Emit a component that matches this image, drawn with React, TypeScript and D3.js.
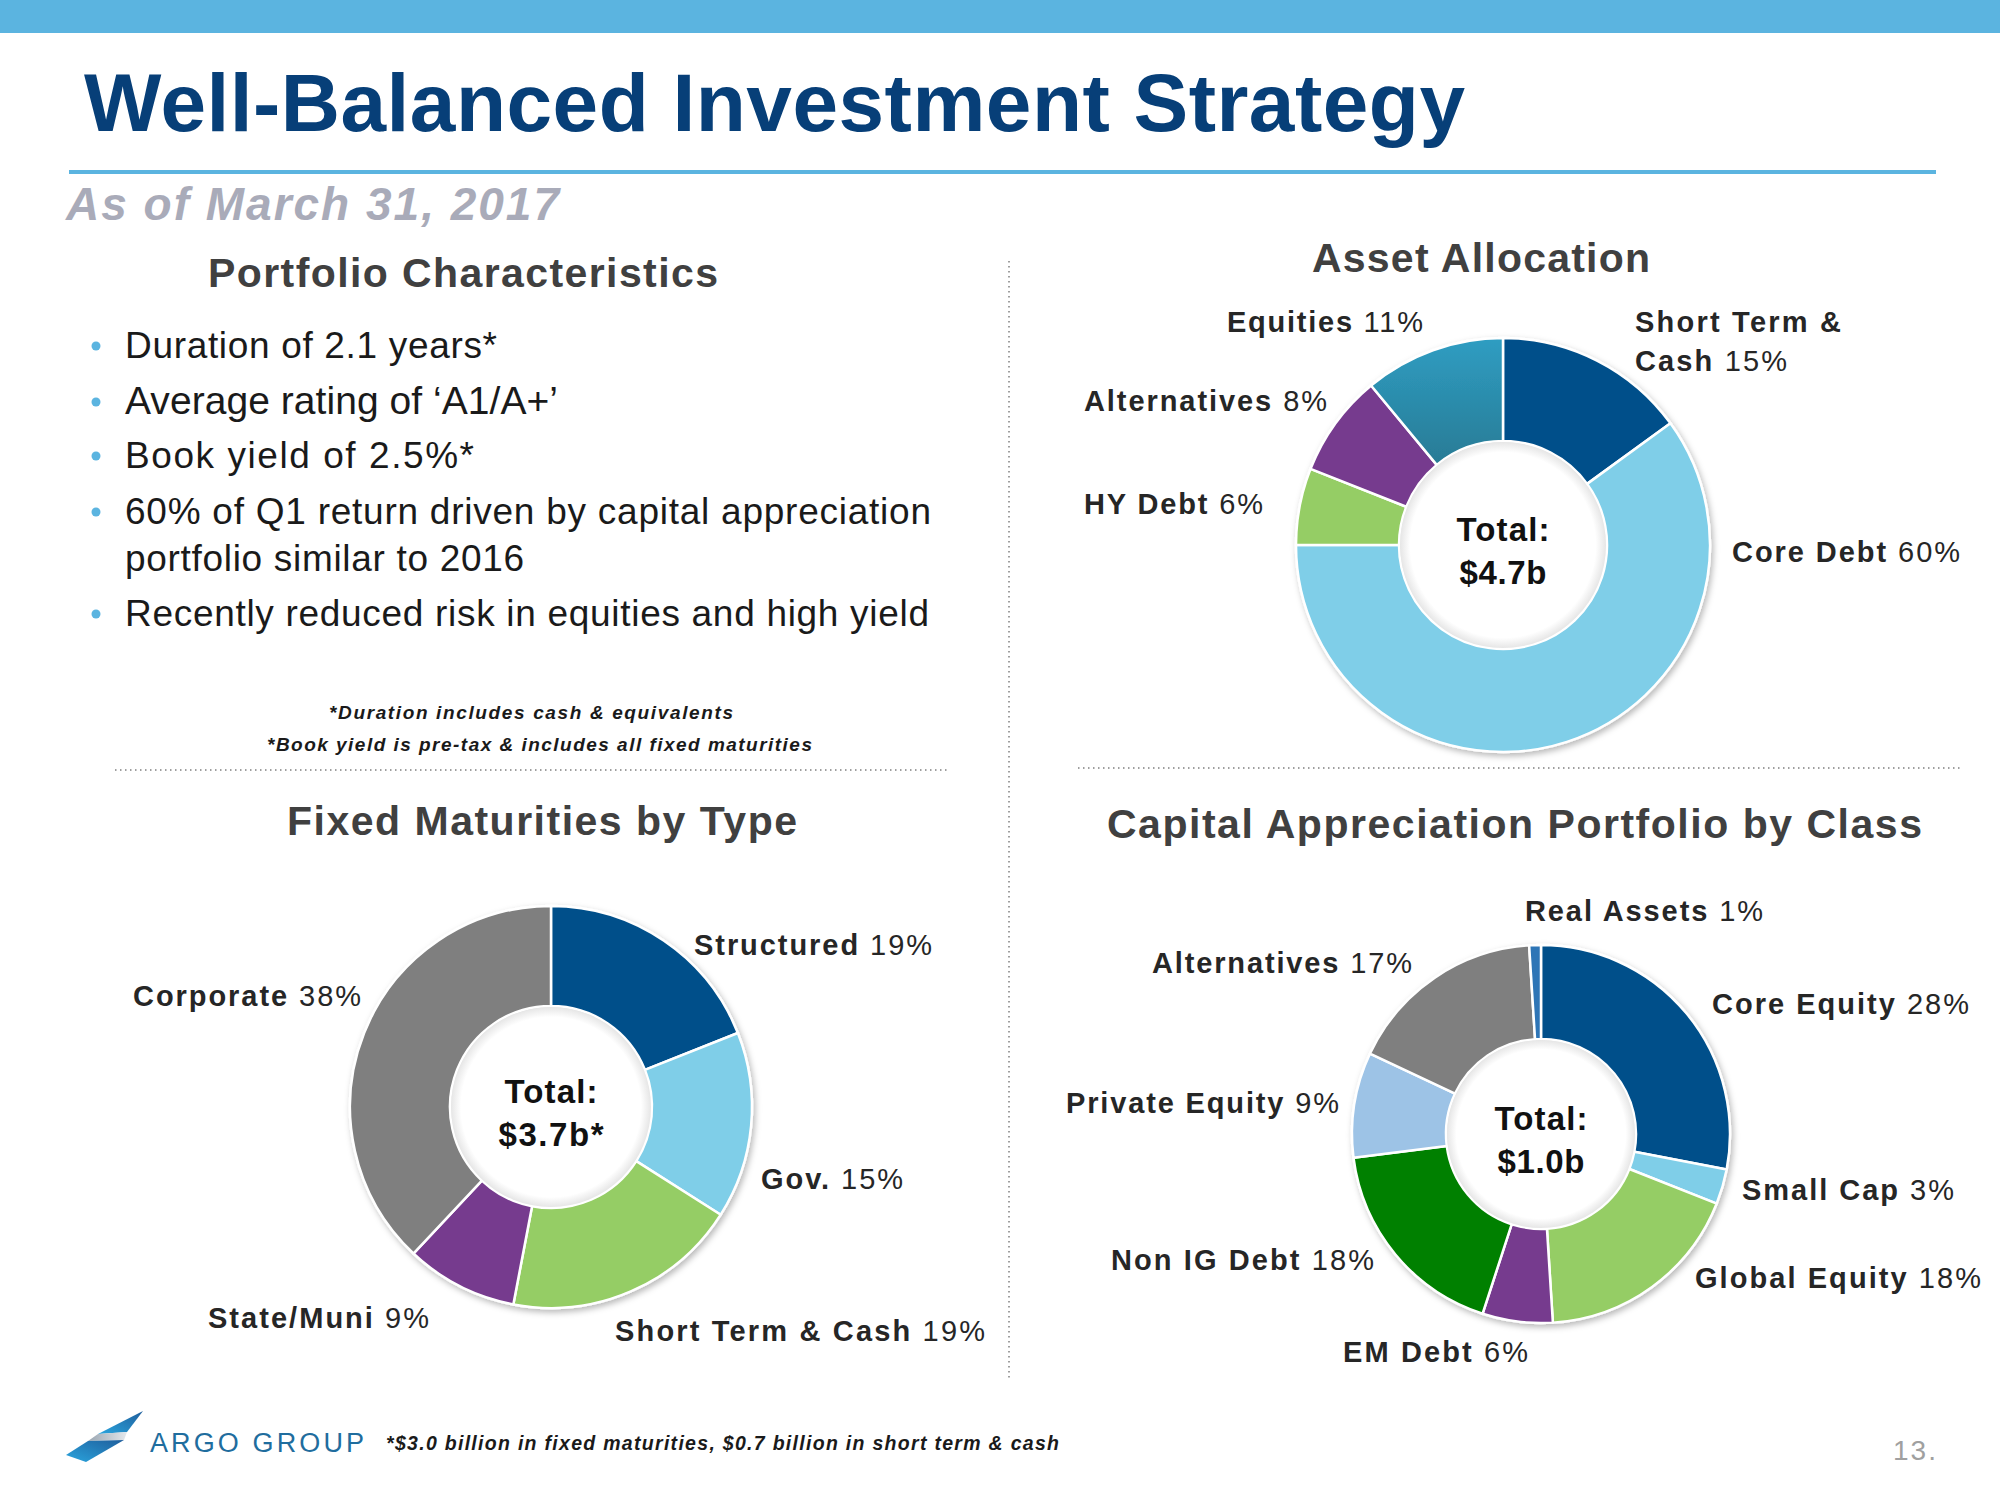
import React from "react";
import * as d3 from "d3";

// ---------- DATA ----------
const assetCategories = ["Short Term & Cash", "Core Debt", "HY Debt", "Alternatives", "Equities"];
const assetValues = [15, 60, 6, 8, 11];
const assetTotal = "$4.7b";

const fixedCategories = ["Structured", "Gov.", "Short Term & Cash", "State/Muni", "Corporate"];
const fixedValues = [19, 15, 19, 9, 38];
const fixedTotal = "$3.7b*";

const capCategories = ["Core Equity", "Small Cap", "Global Equity", "EM Debt", "Non IG Debt", "Private Equity", "Alternatives", "Real Assets"];
const capValues = [28, 3, 18, 6, 18, 9, 17, 1];
const capTotal = "$1.0b";

const bullets = [
  ["Duration of 2.1 years*"],
  ["Average rating of \u2018A1/A+\u2019"],
  ["Book yield of 2.5%*"],
  ["60% of Q1 return driven by capital appreciation", "portfolio similar to 2016"],
  ["Recently reduced risk in equities and high yield"],
];

// ---------- STYLE / LAYOUT ----------
const FONT = "'Liberation Sans', Arial, sans-serif";
const C = {
  bar: "#5BB4E0",
  title: "#073F78",
  sub: "#A9ABB9",
  head: "#404040",
  text: "#1A1A1A",
  dark: "#02508A",
  light: "#7FCEE8",
  green: "#95CD65",
  purple: "#763B8E",
  gray: "#7F7F7F",
  dgreen: "#008000",
  peri: "#9DC3E6",
  real: "#2E75B6",
};
const assetColors = [C.dark, C.light, C.green, C.purple, "url(#tealGrad)"];
const fixedColors = [C.dark, C.light, C.green, C.purple, C.gray];
const capColors = [C.dark, C.light, C.green, C.purple, C.dgreen, C.peri, C.gray, C.real];

const bulletY = [358, 414, 468, 524, 571, 626];
const bulletW = [372, 433, 349, 806, 399, 804];

type L = { x: number; y: number; w: number; lines?: { name: string; pct?: string; y: number; w: number }[] };
const assetLayout: L[] = [
  { x: 1635, y: 332, w: 206, lines: [{ name: "Short Term &", y: 332, w: 206 }, { name: "Cash", pct: "15%", y: 371, w: 152 }] },
  { x: 1732, y: 562, w: 228 },
  { x: 1084, y: 514, w: 179 },
  { x: 1084, y: 411, w: 243 },
  { x: 1227, y: 332, w: 196 },
];
const fixedLayout: L[] = [
  { x: 694, y: 955, w: 238 },
  { x: 761, y: 1189, w: 142 },
  { x: 615, y: 1341, w: 370 },
  { x: 208, y: 1328, w: 221 },
  { x: 133, y: 1006, w: 228 },
];
const capLayout: L[] = [
  { x: 1712, y: 1014, w: 257 },
  { x: 1742, y: 1200, w: 212 },
  { x: 1695, y: 1288, w: 286 },
  { x: 1343, y: 1362, w: 185 },
  { x: 1111, y: 1270, w: 263 },
  { x: 1066, y: 1113, w: 273 },
  { x: 1152, y: 973, w: 260 },
  { x: 1525, y: 921, w: 238 },
];

function Label({ name, pct, x, y, w }: { name: string; pct?: string; x: number; y: number; w: number }) {
  return (
    <text x={x} y={y} fontFamily={FONT} fontSize={29} fill="#262626" textLength={w} lengthAdjust="spacing">
      <tspan fontWeight="bold">{name}</tspan>
      {pct ? <tspan fontWeight="normal">{" " + pct}</tspan> : null}
    </text>
  );
}

type Datum = { c: string; v: number };

function Donut({
  cats, vals, colors, cx, cy, R, r, layout, total, totalW,
}: {
  cats: string[]; vals: number[]; colors: string[]; cx: number; cy: number; R: number; r: number;
  layout: L[]; total: string; totalW: number;
}) {
  const data: Datum[] = cats.map((c, i) => ({ c, v: vals[i] }));
  const pie = d3.pie<Datum>().sort(null).value((d) => d.v);
  const arc = d3.arc<d3.PieArcDatum<Datum>>().innerRadius(r).outerRadius(R);
  const arcs = pie(data);
  return (
    <g>
      <g transform={`translate(${cx},${cy})`} filter="url(#shadow)">
        {arcs.map((a) => (
          <path key={a.data.c + a.index} d={arc(a) || ""} fill={colors[a.index]} stroke="#FFFFFF" strokeWidth={2.5} strokeLinejoin="round" />
        ))}
      </g>
      <circle cx={cx} cy={cy} r={r - 1} fill="url(#holeGrad)" />
      <text x={cx} y={cy - 4} textAnchor="middle" fontFamily={FONT} fontWeight="bold" fontSize={33} fill="#111" textLength={93} lengthAdjust="spacing">Total:</text>
      <text x={cx} y={cy + 39} textAnchor="middle" fontFamily={FONT} fontWeight="bold" fontSize={33} fill="#111" textLength={totalW} lengthAdjust="spacing">{total}</text>
      {layout.map((l, i) =>
        l.lines ? (
          <g key={i}>
            {l.lines.map((ln, j) => (
              <Label key={j} name={ln.name} pct={ln.pct} x={l.x} y={ln.y} w={ln.w} />
            ))}
          </g>
        ) : (
          <Label key={i} name={cats[i]} pct={vals[i] + "%"} x={l.x} y={l.y} w={l.w} />
        )
      )}
    </g>
  );
}

export default function App() {
  let lineIdx = 0;
  return (
    <svg width={2000} height={1500} viewBox="0 0 2000 1500" style={{ display: "block", position: "absolute", left: 0, top: 0, background: "#fff" }}>
      <defs>
        <linearGradient id="tealGrad" x1="0" y1="0" x2="0" y2="1">
          <stop offset="0" stopColor="#2F9DC2" />
          <stop offset="1" stopColor="#287B95" />
        </linearGradient>
        <radialGradient id="holeGrad" cx="0.5" cy="0.5" r="0.5">
          <stop offset="0.9" stopColor="#FFFFFF" />
          <stop offset="1" stopColor="#E6E6E6" />
        </radialGradient>
        <filter id="shadow" x="-20%" y="-20%" width="140%" height="140%">
          <feDropShadow dx="2" dy="3" stdDeviation="3" floodColor="#000" floodOpacity="0.28" />
        </filter>
        <linearGradient id="logoA" x1="1" y1="0" x2="0" y2="1">
          <stop offset="0" stopColor="#1F5E9C" />
          <stop offset="1" stopColor="#2AA5DE" />
        </linearGradient>
        <linearGradient id="logoB" x1="0" y1="0" x2="1" y2="0">
          <stop offset="0" stopColor="#9AA6B2" />
          <stop offset="1" stopColor="#E4E8EC" />
        </linearGradient>
      </defs>
      <rect x={0} y={0} width={2000} height={1500} fill="#FFFFFF" />
      <rect x={0} y={0} width={2000} height={33} fill={C.bar} />
      <text x={84} y={131} fontFamily={FONT} fontWeight="bold" fontSize={82} fill={C.title} textLength={1381} lengthAdjust="spacing">
        Well-Balanced Investment Strategy
      </text>
      <rect x={69} y={170} width={1867} height={4} fill={C.bar} />
      <text x={66} y={220} fontFamily={FONT} fontWeight="bold" fontStyle="italic" fontSize={46} fill={C.sub} textLength={493} lengthAdjust="spacing">
        As of March 31, 2017
      </text>

      <line x1={1009} y1={261} x2={1009} y2={1381} stroke="#7F7F7F" strokeWidth={1.5} strokeDasharray="1.5 3.5" />
      <line x1={115} y1={770} x2={950} y2={770} stroke="#7F7F7F" strokeWidth={1.5} strokeDasharray="1.5 3.5" />
      <line x1={1078} y1={768} x2={1960} y2={768} stroke="#7F7F7F" strokeWidth={1.5} strokeDasharray="1.5 3.5" />

      <text x={208} y={287} fontFamily={FONT} fontWeight="bold" fontSize={41} fill={C.head} textLength={510} lengthAdjust="spacing">Portfolio Characteristics</text>
      <text x={1312} y={272} fontFamily={FONT} fontWeight="bold" fontSize={41} fill={C.head} textLength={338} lengthAdjust="spacing">Asset Allocation</text>
      <text x={287} y={835} fontFamily={FONT} fontWeight="bold" fontSize={41} fill={C.head} textLength={510} lengthAdjust="spacing">Fixed Maturities by Type</text>
      <text x={1107} y={838} fontFamily={FONT} fontWeight="bold" fontSize={41} fill={C.head} textLength={815} lengthAdjust="spacing">Capital Appreciation Portfolio by Class</text>

      {bullets.map((b, i) => (
        <g key={i}>
          {b.map((line, j) => {
            const k = lineIdx++;
            const y = bulletY[k];
            return (
              <g key={j}>
                {j === 0 ? <circle cx={96} cy={y - 12} r={4.5} fill={C.bar} /> : null}
                <text x={125} y={y} fontFamily={FONT} fontSize={i === 1 ? 39 : 37} fill={C.text} textLength={bulletW[k]} lengthAdjust="spacing">
                  {line}
                </text>
              </g>
            );
          })}
        </g>
      ))}

      <text x={329} y={719} fontFamily={FONT} fontWeight="bold" fontStyle="italic" fontSize={19} fill={C.text} textLength={404} lengthAdjust="spacing">*Duration includes cash &amp; equivalents</text>
      <text x={267} y={751} fontFamily={FONT} fontWeight="bold" fontStyle="italic" fontSize={19} fill={C.text} textLength={545} lengthAdjust="spacing">*Book yield is pre-tax &amp; includes all fixed maturities</text>

      <Donut cats={assetCategories} vals={assetValues} colors={assetColors} cx={1503} cy={545} R={207} r={104} layout={assetLayout} total={assetTotal} totalW={87} />
      <Donut cats={fixedCategories} vals={fixedValues} colors={fixedColors} cx={551} cy={1107} R={201} r={101} layout={fixedLayout} total={fixedTotal} totalW={105} />
      <Donut cats={capCategories} vals={capValues} colors={capColors} cx={1541} cy={1134} R={189} r={95} layout={capLayout} total={capTotal} totalW={87} />

      {/* footer logo */}
      <g>
        <polygon points="143,1411 98,1434 127,1432" fill="url(#logoA)" />
        <polygon points="127,1432 98,1434 88,1441 124,1440" fill="url(#logoB)" />
        <polygon points="124,1440 88,1441 66,1455 86,1462" fill="url(#logoA)" />
      </g>
      <text x={150} y={1452} fontFamily={FONT} fontSize={27} fill="#1F6D9E" textLength={214} lengthAdjust="spacing">ARGO GROUP</text>
      <text x={386} y={1450} fontFamily={FONT} fontWeight="bold" fontStyle="italic" fontSize={19.5} fill={C.text} textLength={673} lengthAdjust="spacing">
        *$3.0 billion in fixed maturities, $0.7 billion in short term &amp; cash
      </text>
      <text x={1893} y={1460} fontFamily={FONT} fontSize={28} fill="#A0A0A0" textLength={43} lengthAdjust="spacing">13.</text>
    </svg>
  );
}
